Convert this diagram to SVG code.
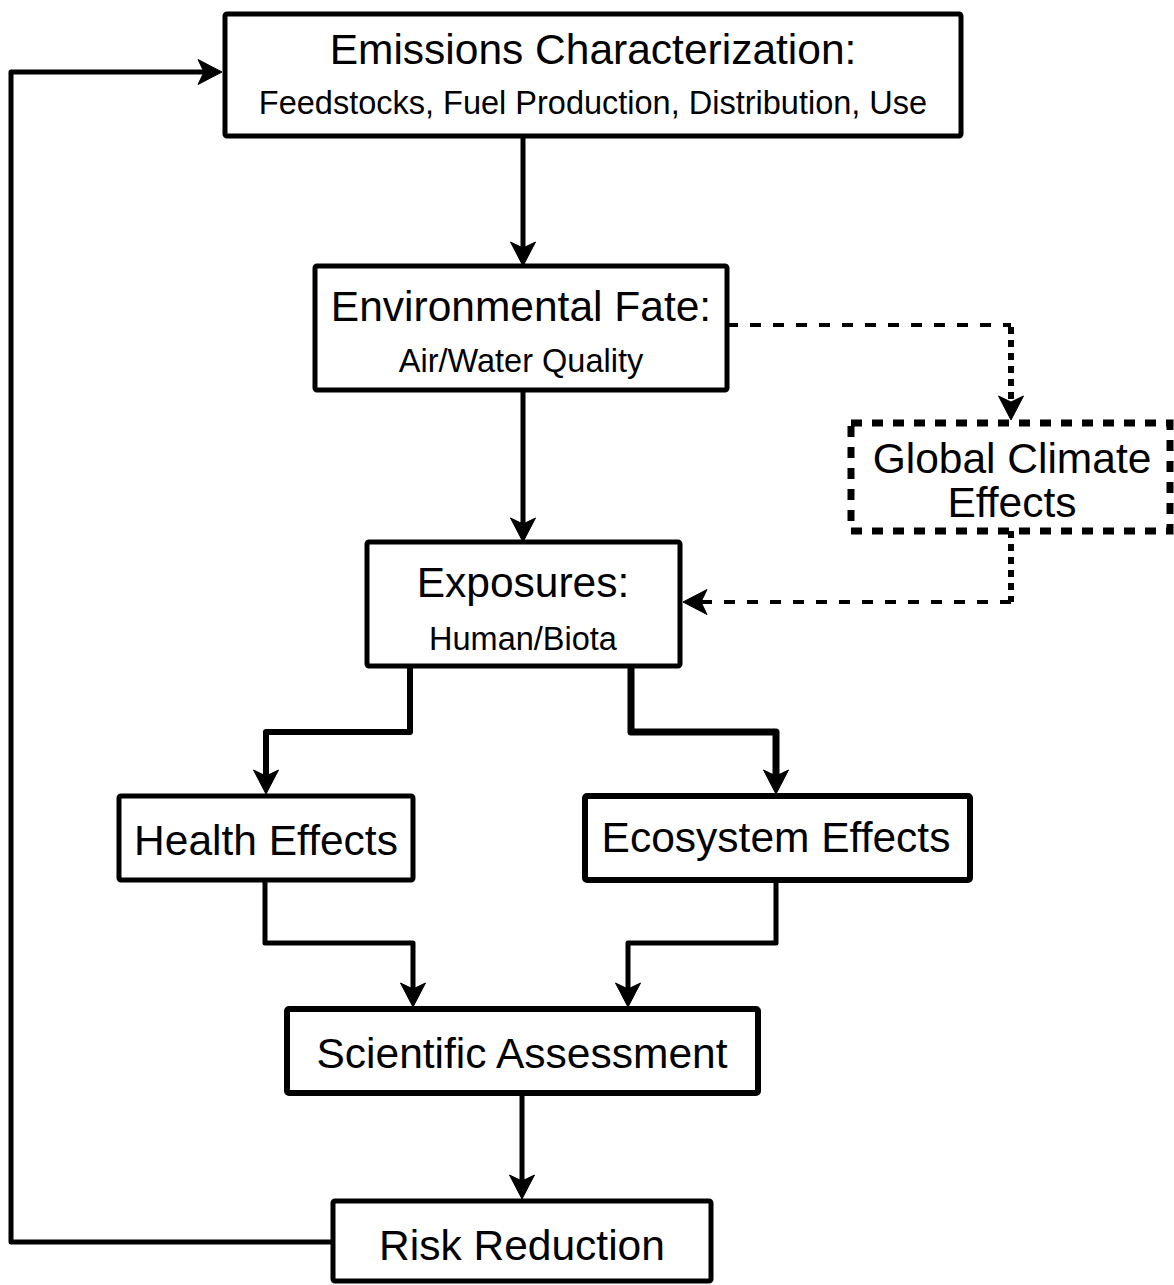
<svg xmlns="http://www.w3.org/2000/svg" width="1174" height="1285" viewBox="0 0 1174 1285">
<style>
.box{fill:#fff;stroke:#000;stroke-width:5;stroke-linejoin:round}
.dbox{fill:#fff;stroke:#000;stroke-width:7;stroke-dasharray:11 10}
.t{font-family:"Liberation Sans",Arial,sans-serif;font-size:42.5px;text-anchor:middle;fill:#000}
.s{font-family:"Liberation Sans",Arial,sans-serif;font-size:32.5px;text-anchor:middle;fill:#000}
.c{fill:none;stroke:#000;stroke-width:5;stroke-linejoin:round}
.dh{fill:none;stroke:#000;stroke-width:4;stroke-dasharray:11 12}
.dv{fill:none;stroke:#000;stroke-width:6;stroke-dasharray:7 6}
</style>
<defs>
<marker id="ah" markerUnits="userSpaceOnUse" markerWidth="40" markerHeight="40" viewBox="-30 -20 40 40" refX="0" refY="0" orient="auto" overflow="visible">
<path d="M10,0 L-14,-12.5 L-8,0 L-14,12.5 Z" fill="#000" stroke="#000" stroke-width="1" stroke-linejoin="round"/>
</marker>
</defs>
<g id="connectors">
<path class="c" d="M523,137 V256" marker-end="url(#ah)"/>
<path class="c" d="M523,390 V532" marker-end="url(#ah)"/>
<path class="dh" d="M727,325 H1011"/>
<path class="dv" d="M1011,327 V410" marker-end="url(#ah)"/>
<path class="dv" d="M1011,531 V602"/>
<path class="dh" d="M1011,602 H693" marker-end="url(#ah)"/>
<path class="c" d="M410,666 V732 H266 V784" style="stroke-width:6" marker-end="url(#ah)"/>
<path class="c" d="M631,666 V732 H776 V784" style="stroke-width:7" marker-end="url(#ah)"/>
<path class="c" d="M265,880 V943 H413 V997" marker-end="url(#ah)"/>
<path class="c" d="M776,880 V943 H628 V997" marker-end="url(#ah)"/>
<path class="c" d="M522,1093 V1189" marker-end="url(#ah)"/>
<path class="c" d="M333,1242 H11 V72 H212" marker-end="url(#ah)"/>
</g>
<g id="emissions">
<rect class="box" x="225" y="14" width="736" height="122" rx="2"/>
<text class="t" x="593" y="64">Emissions Characterization:</text>
<text class="s" x="593" y="114">Feedstocks, Fuel Production, Distribution, Use</text>
</g>
<g id="environmental-fate">
<rect class="box" x="315" y="266" width="412" height="124" rx="2"/>
<text class="t" x="521" y="321">Environmental Fate:</text>
<text class="s" x="521" y="372">Air/Water Quality</text>
</g>
<g id="global-climate">
<rect class="dbox" x="851" y="423" width="319" height="108"/>
<text class="t" x="1012" y="473">Global Climate</text>
<text class="t" x="1012" y="517">Effects</text>
</g>
<g id="exposures">
<rect class="box" x="367" y="542" width="313" height="124" rx="2"/>
<text class="t" x="523" y="597">Exposures:</text>
<text class="s" x="523" y="650">Human/Biota</text>
</g>
<g id="health">
<rect class="box" x="119" y="796" width="294" height="84" rx="2"/>
<text class="t" x="266" y="855">Health Effects</text>
</g>
<g id="ecosystem">
<rect class="box" x="585" y="796" width="385" height="84" rx="2" style="stroke-width:6"/>
<text class="t" x="776" y="852">Ecosystem Effects</text>
</g>
<g id="scientific">
<rect class="box" x="287" y="1009" width="471" height="84" rx="2" style="stroke-width:6"/>
<text class="t" x="522" y="1068">Scientific Assessment</text>
</g>
<g id="risk">
<rect class="box" x="333" y="1201" width="378" height="80" rx="2"/>
<text class="t" x="522" y="1260">Risk Reduction</text>
</g>
</svg>
